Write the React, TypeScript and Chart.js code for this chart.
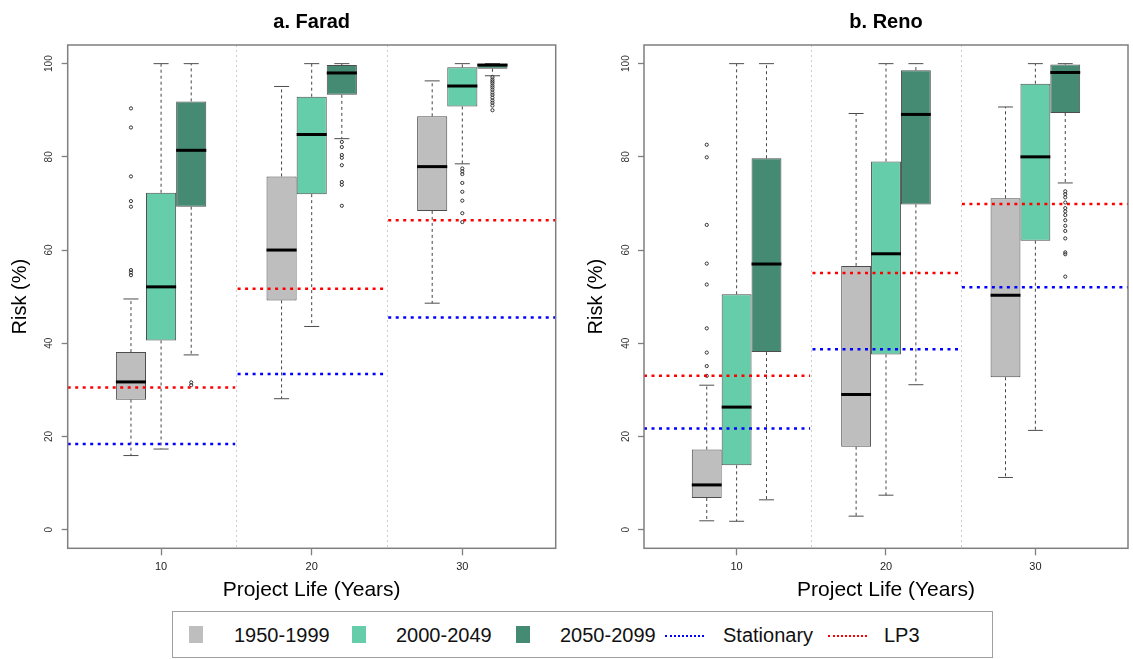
import React, { useEffect, useRef } from 'react';
import { Chart, registerables } from 'chart.js';

Chart.register(...registerables);

// ---------- data ----------
const groups = [10, 20, 30];
const periods = ['1950-1999', '2000-2049', '2050-2099'];
const periodColors = ['#BEBEBE', '#66CDAA', '#458B74'];
const separators = [15, 25];
const xRange = [3.8, 36.2];
const yRange = [-4, 104];
const yTicks = [0, 20, 40, 60, 80, 100];

// Farad: [period][group]
const faradLow = [[15.9, 28.1, 48.6], [17.3, 43.6, 78.5], [37.5, 83.9, 97.4]];
const faradQ1 = [[27.9, 49.2, 68.4], [40.6, 72.0, 90.8], [69.3, 93.3, 98.9]];
const faradMedian = [[31.7, 60.0, 77.9], [52.1, 84.8, 95.2], [81.4, 98.0, 99.7]];
const faradQ3 = [[38.1, 75.8, 88.7], [72.3, 92.9, 99.2], [91.9, 99.7, 99.9]];
const faradHigh = [[49.5, 95.1, 96.3], [100, 100, 100], [100, 100, 100]];
const faradOutliers = [
  [[90.4, 86.3, 75.8, 70.5, 69.3, 55.7, 55.2, 54.6], [], []],
  [[], [], [77.5, 76.9, 76.3, 74.4, 72.5, 70.6, 67.9, 66.0]],
  [[31.6, 31.0], [83.2, 82.1, 80.4, 79.8, 78.2, 74.6, 74.0, 69.5],
    [97.1, 96.6, 96.2, 95.8, 95.3, 94.9, 94.4, 93.8, 93.3, 92.7, 92.1, 91.6, 91.0, 90.0]],
];
const faradStationary = [18.4, 33.4, 45.5];
const faradLP3 = [30.5, 51.7, 66.4];

// Reno: [period][group]
const renoLow = [[1.9, 2.9, 11.2], [1.8, 7.4, 21.3], [6.4, 31.1, 74.4]];
const renoQ1 = [[6.8, 17.8, 32.7], [13.8, 37.6, 62.0], [38.1, 69.8, 89.4]];
const renoMedian = [[9.6, 29.0, 50.3], [26.3, 59.2, 80.0], [57.0, 89.1, 98.1]];
const renoQ3 = [[17.2, 56.6, 71.1], [50.5, 79.0, 95.7], [79.7, 98.6, 99.8]];
const renoHigh = [[31.0, 89.3, 90.7], [100, 100, 100], [100, 100, 100]];
const renoOutliers = [
  [[82.6, 79.9, 65.4, 57.1, 52.6, 43.2, 38.0, 35.1, 33.0], [], []],
  [[], [], []],
  [[], [], [72.6, 72.0, 71.3, 70.2, 69.0, 68.3, 67.5, 66.4, 65.2, 64.1, 62.5, 59.5, 59.1, 54.3]],
];
const renoStationary = [21.7, 38.7, 52.0];
const renoLP3 = [33.0, 55.1, 69.9];

// ---------- layout ----------
const FONT = "'Liberation Sans', Arial, Helvetica, sans-serif";
const CANVAS_H = 610;
const AREA_BOTTOM = 548.3;
const BOX_SLOT = 2; // x-units between neighbouring boxes in a group (matches bar grouping)

const segBounds = [
  [xRange[0], separators[0]],
  [separators[0], separators[1]],
  [separators[1], xRange[1]],
];

function segments(vals: number[]) {
  const pts: any[] = [];
  vals.forEach((v, i) => {
    if (i > 0) pts.push({ x: segBounds[i][0], y: null });
    pts.push({ x: segBounds[i][0] + (i > 0 ? 0.08 : 0), y: v });
    pts.push({ x: segBounds[i][1] - (i < 2 ? 0.08 : 0), y: v });
  });
  return pts;
}

const extrasPlugin = {
  id: 'boxExtras',
  beforeDatasetsDraw(chart: any) {
    const { ctx, chartArea, scales } = chart;
    ctx.save();
    ctx.strokeStyle = '#cccccc';
    ctx.lineWidth = 1;
    ctx.setLineDash([2, 3]);
    separators.forEach((s) => {
      const px = Math.round(scales.x.getPixelForValue(s)) + 0.5;
      ctx.beginPath();
      ctx.moveTo(px, chartArea.top);
      ctx.lineTo(px, chartArea.bottom);
      ctx.stroke();
    });
    ctx.restore();
  },
  afterDatasetDraw(chart: any, args: any) {
    const ds = chart.data.datasets[args.index];
    if (!ds.boxStats) return;
    const { low, median, high, q1, q3 } = ds.boxStats;
    const y = chart.scales.y;
    const ctx = chart.ctx;
    ctx.save();
    args.meta.data.forEach((bar: any, i: number) => {
      const cx = bar.x;
      const w = bar.width;
      const pHigh = y.getPixelForValue(high[i]);
      const pLow = y.getPixelForValue(low[i]);
      const pQ1 = y.getPixelForValue(q1[i]);
      const pQ3 = y.getPixelForValue(q3[i]);
      const pMed = y.getPixelForValue(median[i]);
      // whiskers
      ctx.strokeStyle = '#444444';
      ctx.lineWidth = 1;
      ctx.setLineDash([3, 3]);
      ctx.beginPath();
      ctx.moveTo(cx, pQ3);
      ctx.lineTo(cx, pHigh);
      ctx.moveTo(cx, pQ1);
      ctx.lineTo(cx, pLow);
      ctx.stroke();
      // staples
      ctx.setLineDash([]);
      ctx.strokeStyle = '#4d4d4d';
      ctx.beginPath();
      ctx.moveTo(cx - w / 4, pHigh);
      ctx.lineTo(cx + w / 4, pHigh);
      ctx.moveTo(cx - w / 4, pLow);
      ctx.lineTo(cx + w / 4, pLow);
      ctx.stroke();
      // median
      ctx.strokeStyle = '#000000';
      ctx.lineWidth = 3;
      ctx.beginPath();
      ctx.moveTo(cx - w / 2, pMed);
      ctx.lineTo(cx + w / 2, pMed);
      ctx.stroke();
    });
    ctx.restore();
  },
  afterDraw(chart: any) {
    const { ctx, chartArea } = chart;
    ctx.save();
    ctx.strokeStyle = '#7f7f7f';
    ctx.lineWidth = 1.5;
    ctx.strokeRect(chartArea.left, chartArea.top, chartArea.right - chartArea.left, chartArea.bottom - chartArea.top);
    ctx.restore();
  },
};

type PanelProps = {
  left: number;
  width: number;
  areaLeft: number;
  areaRight: number;
  yTitlePad: number;
  title: string;
  low: number[][];
  q1: number[][];
  median: number[][];
  q3: number[][];
  high: number[][];
  outliers: number[][][];
  stationary: number[];
  lp3: number[];
};

function BoxPanel(p: PanelProps) {
  const ref = useRef<HTMLCanvasElement | null>(null);
  useEffect(() => {
    if (!ref.current) return;
    const datasets: any[] = [
      {
        type: 'line', label: 'Stationary', data: segments(p.stationary),
        borderColor: '#0000FF', borderWidth: 2.5, borderDash: [3, 4.5],
        pointRadius: 0, spanGaps: false, order: 0,
      },
      {
        type: 'line', label: 'LP3', data: segments(p.lp3),
        borderColor: '#FF0000', borderWidth: 2.5, borderDash: [3, 4.5],
        pointRadius: 0, spanGaps: false, order: 0,
      },
    ];
    periods.forEach((name, pi) => {
      const pts: any[] = [];
      groups.forEach((g, gi) => {
        p.outliers[pi][gi].forEach((v) => pts.push({ x: g + (pi - 1) * BOX_SLOT, y: v }));
      });
      datasets.push({
        type: 'scatter', label: name + ' outliers', data: pts,
        pointRadius: 1.6, pointBorderWidth: 1, borderColor: '#333333',
        backgroundColor: 'rgba(0,0,0,0)', order: 1,
      });
    });
    periods.forEach((name, pi) => {
      datasets.push({
        type: 'bar', label: name,
        data: groups.map((g, gi) => ({ x: g, y: [p.q1[pi][gi], p.q3[pi][gi]] })),
        backgroundColor: periodColors[pi], borderColor: '#4d4d4d', borderWidth: 1,
        borderSkipped: false, categoryPercentage: 0.6, barPercentage: 1, order: 2,
        boxStats: { low: p.low[pi], q1: p.q1[pi], median: p.median[pi], q3: p.q3[pi], high: p.high[pi] },
      });
    });

    const chart = new Chart(ref.current, {
      type: 'bar',
      data: { datasets },
      plugins: [extrasPlugin],
      options: {
        responsive: false,
        animation: false,
        events: [],
        layout: { padding: { left: 0, right: p.width - (p.areaRight - p.left), top: 0, bottom: 0 } },
        plugins: {
          legend: { display: false },
          tooltip: { enabled: false },
          title: {
            display: true, text: p.title, fullSize: false, color: '#000',
            font: { size: 20, weight: 'bold', family: FONT },
            padding: { top: 10, bottom: 11 },
          },
        },
        scales: {
          x: {
            type: 'linear', min: xRange[0], max: xRange[1], offset: false,
            afterBuildTicks: (s: any) => { s.ticks = groups.map((v) => ({ value: v })); },
            afterFit: (s: any) => { s.height = CANVAS_H - AREA_BOTTOM; },
            grid: { display: true, offset: false, drawOnChartArea: false, drawTicks: true, tickLength: 7, tickColor: '#7f7f7f', tickWidth: 1.3 },
            border: { display: false },
            ticks: { padding: 5.5, autoSkip: false, maxRotation: 0, color: '#222', font: { size: 11, family: FONT }, callback: (v: any) => String(v) },
            title: { display: true, text: 'Project Life (Years)', color: '#000', font: { size: 21, family: FONT }, padding: { top: 0, bottom: 7.4 } },
          },
          y: {
            type: 'linear', min: yRange[0], max: yRange[1],
            afterBuildTicks: (s: any) => { s.ticks = yTicks.map((v) => ({ value: v })); },
            afterFit: (s: any) => { s.width = p.areaLeft - p.left; },
            grid: { display: true, drawOnChartArea: false, drawTicks: true, tickLength: 6, tickColor: '#7f7f7f', tickWidth: 1.3 },
            border: { display: false },
            ticks: { padding: 3.7, autoSkip: false, minRotation: 90, maxRotation: 90, crossAlign: 'center', color: '#333', font: { size: 10, family: FONT }, callback: (v: any) => String(v) },
            title: { display: true, text: 'Risk (%)', color: '#000', font: { size: 20, family: FONT }, padding: { top: p.yTitlePad, bottom: 0 } },
          },
        },
      } as any,
    });
    return () => chart.destroy();
  }, []);
  return (
    <canvas
      ref={ref}
      width={p.width}
      height={CANVAS_H}
      style={{ position: 'absolute', left: p.left, top: 0, width: p.width, height: CANVAS_H }}
    />
  );
}

function Legend() {
  const text = (label: string, left: number) => (
    <span style={{ position: 'absolute', left, top: 11, fontSize: 20, lineHeight: '24px', color: '#111', fontFamily: FONT, whiteSpace: 'nowrap' }}>{label}</span>
  );
  const swatch = (color: string, left: number) => (
    <span style={{ position: 'absolute', left, top: 14, width: 14, height: 17, background: color }} />
  );
  const line = (color: string, left: number) => (
    <span style={{ position: 'absolute', left, top: 23, width: 39, height: 0, borderTop: `2px dotted ${color}` }} />
  );
  return (
    <div style={{ position: 'absolute', left: 172, top: 611, width: 821, height: 47, border: '1.5px solid #a0a0a0', boxSizing: 'border-box', background: '#fff' }}>
      {swatch(periodColors[0], 16)}
      {text(periods[0], 61)}
      {swatch(periodColors[1], 179)}
      {text(periods[1], 223)}
      {swatch(periodColors[2], 343)}
      {text(periods[2], 387)}
      {line('#0000FF', 492)}
      {text('Stationary', 550)}
      {line('#FF0000', 655)}
      {text('LP3', 711)}
    </div>
  );
}

export default function App() {
  return (
    <div style={{ position: 'absolute', left: 0, top: 0, width: 1133, height: 659, background: '#fff', overflow: 'hidden' }}>
      <BoxPanel
        left={0} width={566} areaLeft={67.7} areaRight={555.7} yTitlePad={8} title="a. Farad"
        low={faradLow} q1={faradQ1} median={faradMedian} q3={faradQ3} high={faradHigh}
        outliers={faradOutliers} stationary={faradStationary} lp3={faradLP3}
      />
      <BoxPanel
        left={566} width={567} areaLeft={644} areaRight={1132.3} yTitlePad={18} title="b. Reno"
        low={renoLow} q1={renoQ1} median={renoMedian} q3={renoQ3} high={renoHigh}
        outliers={renoOutliers} stationary={renoStationary} lp3={renoLP3}
      />
      <Legend />
    </div>
  );
}
